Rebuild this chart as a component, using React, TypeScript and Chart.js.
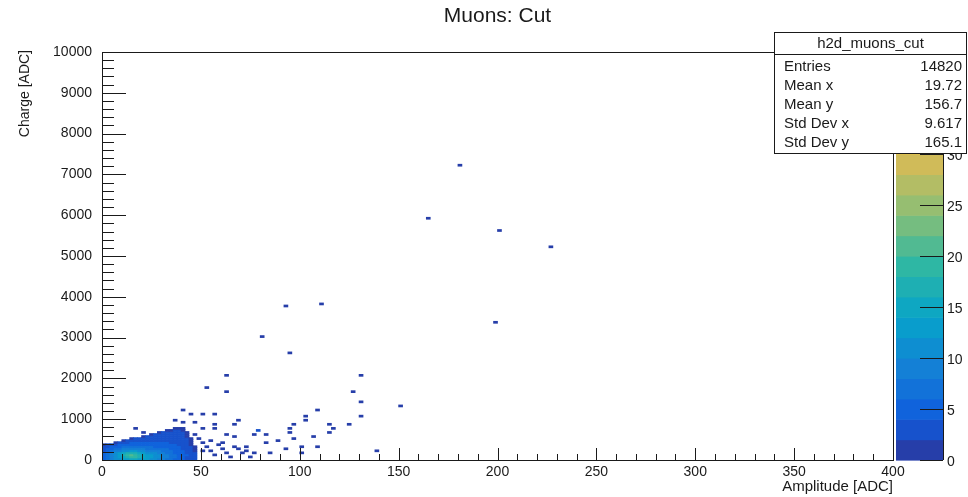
import React, { useEffect, useRef } from 'react';
import { Chart, registerables } from 'chart.js';

Chart.register(...registerables);

// ---------------- data ----------------
const TITLE = 'Muons: Cut';
const X_TITLE = 'Amplitude [ADC]';
const Y_TITLE = 'Charge [ADC]';
const X_MIN = 0;
const X_MAX = 400;
const Y_MIN = 0;
const Y_MAX = 10000;
const X_BIN = 2;
const Y_BIN = 50;
const Z_MAX = 40;
const N_CONTOURS = 20;
const Z_TICKS = [0, 5, 10, 15, 20, 25, 30, 35, 40];
const X_MAJOR = 50;
const X_MINOR = 10;
const Y_MAJOR = 1000;
const Y_MINOR = 200;

const STAT_TITLE = 'h2d_muons_cut';
const STAT_LABELS = ['Entries', 'Mean x', 'Mean y', 'Std Dev x', 'Std Dev y'];
const STAT_VALUES = ['14820', '19.72', '156.7', '9.617', '165.1'];

// dense core: rows = y bins (0-50, 50-100, ...), columns = x bins (0-2, 2-4, ...)
const denseCounts: number[][] = [
  [4, 6, 8, 10, 11, 12, 13, 14, 14, 13, 12, 12, 11, 10, 9, 8, 7, 6, 5, 4, 4, 3, 2, 2],
  [5, 7, 9, 11, 13, 15, 17, 19, 18, 16, 14, 13, 12, 11, 10, 9, 8, 7, 6, 5, 4, 3, 3, 2],
  [5, 7, 9, 11, 13, 16, 19, 20, 19, 16, 14, 13, 12, 11, 10, 9, 8, 7, 6, 5, 4, 4, 3, 2],
  [4, 6, 8, 10, 12, 14, 16, 17, 16, 14, 12, 11, 10, 10, 9, 8, 7, 6, 5, 5, 4, 3, 2, 2],
  [3, 5, 6, 8, 9, 10, 11, 12, 12, 11, 10, 9, 9, 8, 8, 7, 6, 6, 5, 4, 4, 3, 2, 1],
  [3, 4, 5, 6, 7, 8, 8, 9, 9, 8, 8, 7, 7, 7, 6, 6, 6, 5, 5, 4, 3, 3, 2, 1],
  [2, 3, 4, 5, 5, 6, 6, 6, 6, 6, 6, 6, 6, 5, 5, 5, 5, 5, 4, 4, 3, 2, 2, 1],
  [1, 2, 2, 3, 4, 4, 5, 5, 5, 5, 5, 5, 5, 5, 4, 4, 4, 4, 4, 3, 3, 2, 1, 0],
  [0, 0, 0, 1, 2, 3, 3, 4, 4, 4, 4, 4, 4, 4, 4, 4, 4, 3, 3, 3, 3, 2, 1, 0],
  [0, 0, 0, 0, 0, 1, 2, 3, 3, 3, 3, 3, 3, 3, 3, 3, 3, 3, 3, 3, 2, 2, 1, 0],
  [0, 0, 0, 0, 0, 0, 0, 1, 2, 2, 3, 3, 3, 3, 3, 3, 3, 3, 3, 3, 2, 2, 1, 0],
  [0, 0, 0, 0, 0, 0, 0, 0, 0, 0, 1, 2, 2, 2, 3, 3, 3, 3, 3, 2, 2, 1, 0, 0],
  [0, 0, 0, 0, 0, 0, 0, 0, 0, 0, 0, 0, 1, 2, 2, 2, 2, 2, 2, 2, 2, 1, 0, 0],
  [0, 0, 0, 0, 0, 0, 0, 0, 0, 0, 0, 0, 0, 0, 1, 2, 2, 2, 2, 2, 2, 1, 0, 0],
  [0, 0, 0, 0, 0, 0, 0, 0, 0, 0, 0, 0, 0, 0, 0, 0, 1, 1, 2, 2, 1, 0, 0, 0],
  [0, 0, 0, 0, 0, 0, 0, 0, 0, 0, 0, 0, 0, 0, 0, 0, 0, 0, 1, 1, 1, 0, 0, 0],
];

// isolated entries (amplitude, charge)
const sparseX = [
  180, 165, 200, 227, 198, 93, 111, 81, 95,
  63, 131, 53, 63, 127, 131, 151, 109, 51, 57, 103, 131,
  125, 103, 97, 95, 68, 67, 115, 117, 115, 107, 95, 97, 89, 83, 83, 78, 76, 72, 101, 109, 93, 85, 76, 100, 139,
  56, 57, 51, 66, 69, 41, 45, 36, 40, 47, 62, 79, 21, 17,
  48, 50, 52, 54, 56, 58, 60, 62, 64, 50, 55, 47, 60, 66, 70, 72, 75,
];
const sparseY = [
  7200, 5900, 5600, 5200, 3350, 3770, 3810, 3030, 2640,
  2050, 2050, 1770, 1660, 1660, 1420, 1340, 1200, 1100, 1130, 1050, 1050,
  880, 950, 880, 780, 950, 880, 850, 780, 660, 560, 660, 510, 470, 610, 440, 710, 630, 340, 320, 320, 290, 150, 170, 170, 240,
  850, 760, 780, 560, 290, 1220, 1130, 950, 900, 900, 640, 700, 690, 780,
  500, 400, 300, 200, 120, 350, 250, 180, 80, 200, 450, 600, 420, 300, 150, 220, 90,
];

// ROOT kBird palette
const BIRD_STOPS = [0.0, 0.125, 0.25, 0.375, 0.5, 0.625, 0.75, 0.875, 1.0];
const BIRD_R = [0.2082, 0.0592, 0.078, 0.0232, 0.1802, 0.5301, 0.8186, 0.9956, 0.9764];
const BIRD_G = [0.1664, 0.3599, 0.5041, 0.6419, 0.7178, 0.7492, 0.7328, 0.7862, 0.9832];
const BIRD_B = [0.5293, 0.8684, 0.8385, 0.7914, 0.6425, 0.4662, 0.3499, 0.1968, 0.0539];

const FONT = '"Liberation Sans", Arial, Helvetica, sans-serif';
const INK = '#1a1a1a';

function bird(f: number): string {
  const t = Math.max(0, Math.min(1, f));
  let i = 0;
  while (i < BIRD_STOPS.length - 2 && t > BIRD_STOPS[i + 1]) i++;
  const u = (t - BIRD_STOPS[i]) / (BIRD_STOPS[i + 1] - BIRD_STOPS[i]);
  const lerp = (a: number[]) => Math.round(255 * (a[i] + (a[i + 1] - a[i]) * u));
  return `rgb(${lerp(BIRD_R)},${lerp(BIRD_G)},${lerp(BIRD_B)})`;
}

function colorForCount(c: number): string {
  const step = Z_MAX / N_CONTOURS;
  const level = Math.min(N_CONTOURS - 1, Math.floor(c / step));
  return bird((level + 0.99) / N_CONTOURS);
}

type Cell = { x: number; y: [number, number]; c: number };

function buildCells(): Cell[] {
  const map = new Map<string, Cell>();
  denseCounts.forEach((row, r) => {
    row.forEach((count, col) => {
      if (count > 0) {
        const key = `${col}_${r}`;
        map.set(key, { x: (col + 0.5) * X_BIN, y: [r * Y_BIN, (r + 1) * Y_BIN], c: count });
      }
    });
  });
  sparseX.forEach((xv, i) => {
    const col = Math.floor(xv / X_BIN);
    const r = Math.floor(sparseY[i] / Y_BIN);
    const key = `${col}_${r}`;
    const existing = map.get(key);
    if (existing) existing.c += 1;
    else map.set(key, { x: (col + 0.5) * X_BIN, y: [r * Y_BIN, (r + 1) * Y_BIN], c: 1 });
  });
  return Array.from(map.values());
}

const rootDecor = {
  id: 'rootDecor',
  afterDraw(chart: any) {
    const ctx: CanvasRenderingContext2D = chart.ctx;
    const { left, right, top, bottom } = chart.chartArea;
    const xs = chart.scales.x;
    const ys = chart.scales.y;
    const zs = chart.scales.z;
    ctx.save();

    // frame
    ctx.strokeStyle = INK;
    ctx.lineWidth = 1;
    ctx.strokeRect(Math.round(left) + 0.5, Math.round(top) + 0.5, Math.round(right - left), Math.round(bottom - top));

    // axis ticks (inside frame)
    ctx.beginPath();
    for (let v = X_MIN; v <= X_MAX; v += X_MINOR) {
      const px = Math.round(xs.getPixelForValue(v)) + 0.5;
      const len = v % X_MAJOR === 0 ? 12 : 6;
      ctx.moveTo(px, bottom);
      ctx.lineTo(px, bottom - len);
    }
    for (let v = Y_MIN; v <= Y_MAX; v += Y_MINOR) {
      const py = Math.round(ys.getPixelForValue(v)) + 0.5;
      const len = v % Y_MAJOR === 0 ? 24 : 12;
      ctx.moveTo(left, py);
      ctx.lineTo(left + len, py);
    }
    ctx.stroke();

    // palette
    const zPix = (v: number) => {
      const p = zs ? zs.getPixelForValue(v) : NaN;
      return Number.isFinite(p) ? p : bottom - (v / Z_MAX) * (bottom - top);
    };
    const pl = right + 3;
    const pr = right + 50;
    for (let i = 0; i < N_CONTOURS; i++) {
      const lo = (i * Z_MAX) / N_CONTOURS;
      const hi = ((i + 1) * Z_MAX) / N_CONTOURS;
      const y1 = zPix(hi);
      const y0 = zPix(lo);
      ctx.fillStyle = bird((i + 0.99) / N_CONTOURS);
      ctx.fillRect(pl, y1, pr - pl, y0 - y1 + 0.6);
    }
    ctx.beginPath();
    ctx.moveTo(Math.round(pr) + 0.5, top);
    ctx.lineTo(Math.round(pr) + 0.5, bottom);
    Z_TICKS.forEach((t) => {
      const py = Math.round(zPix(t)) + 0.5;
      ctx.moveTo(pr, py);
      ctx.lineTo(pr - 23, py);
    });
    ctx.stroke();
    ctx.fillStyle = INK;
    ctx.font = `14px ${FONT}`;
    ctx.textAlign = 'left';
    ctx.textBaseline = 'middle';
    Z_TICKS.forEach((t) => {
      ctx.fillText(String(t), pr + 4, zPix(t) + 2);
    });

    // title
    ctx.font = `21px ${FONT}`;
    ctx.textAlign = 'center';
    ctx.textBaseline = 'middle';
    ctx.fillText(TITLE, (left + right) / 2, 16);

    // axis titles
    ctx.font = `15px ${FONT}`;
    ctx.textAlign = 'right';
    ctx.fillText(X_TITLE, right, 487);
    ctx.save();
    ctx.translate(25, top - 2);
    ctx.rotate(-Math.PI / 2);
    ctx.font = `14px ${FONT}`;
    ctx.textAlign = 'right';
    ctx.fillText(Y_TITLE, 0, 0);
    ctx.restore();

    // stats box
    const bx = 774, by = 32, bw = 193, bh = 121;
    ctx.fillStyle = '#ffffff';
    ctx.fillRect(bx, by, bw, bh);
    ctx.strokeStyle = INK;
    ctx.strokeRect(bx + 0.5, by + 0.5, bw - 1, bh);
    ctx.beginPath();
    ctx.moveTo(bx, by + 22.5);
    ctx.lineTo(bx + bw, by + 22.5);
    ctx.stroke();
    ctx.fillStyle = INK;
    ctx.font = `15px ${FONT}`;
    ctx.textAlign = 'center';
    ctx.fillText(STAT_TITLE, bx + bw / 2, by + 12);
    STAT_LABELS.forEach((lab, i) => {
      const yy = by + 35 + i * 19;
      ctx.textAlign = 'left';
      ctx.fillText(lab, bx + 10, yy);
      ctx.textAlign = 'right';
      ctx.fillText(STAT_VALUES[i], bx + bw - 5, yy);
    });

    ctx.restore();
  },
};

export default function App() {
  const canvasRef = useRef<HTMLCanvasElement | null>(null);

  useEffect(() => {
    const canvas = canvasRef.current;
    if (!canvas) return;
    const cells = buildCells();
    const chart = new Chart(canvas, {
      type: 'bar',
      data: {
        datasets: [
          {
            data: cells as any,
            backgroundColor: (c: any) => (c.raw ? colorForCount(c.raw.c) : 'transparent'),
            borderWidth: 0,
            barThickness: 4,
            xAxisID: 'x',
            yAxisID: 'y',
          } as any,
        ],
      },
      options: {
        animation: false,
        responsive: false,
        maintainAspectRatio: false,
        devicePixelRatio: 1,
        events: [],
        layout: { padding: { top: 52, right: 75, bottom: 0, left: 0 } },
        plugins: {
          legend: { display: false },
          tooltip: { enabled: false },
          title: { display: false },
        },
        scales: {
          x: {
            type: 'linear',
            position: 'bottom',
            min: X_MIN,
            max: X_MAX,
            offset: false,
            grid: { display: false, drawTicks: false, offset: false },
            border: { display: false },
            ticks: {
              stepSize: X_MAJOR,
              autoSkip: false,
              maxRotation: 0,
              padding: 4,
              color: INK,
              font: { family: FONT, size: 14 },
              callback: (v: any) => String(v),
            },
            afterFit: (s: any) => {
              s.height = 37;
            },
          },
          y: {
            type: 'linear',
            position: 'left',
            min: Y_MIN,
            max: Y_MAX,
            grid: { display: false, drawTicks: false },
            border: { display: false },
            ticks: {
              stepSize: Y_MAJOR,
              autoSkip: false,
              padding: 10,
              color: INK,
              font: { family: FONT, size: 14 },
              callback: (v: any) => String(v),
            },
            afterFit: (s: any) => {
              s.width = 102;
            },
          },
          z: {
            type: 'linear',
            position: 'right',
            display: false,
            min: 0,
            max: Z_MAX,
          },
        },
      } as any,
      plugins: [rootDecor],
    });
    return () => chart.destroy();
  }, []);

  return (
    <div style={{ position: 'absolute', left: 0, top: 0, width: 968, height: 497, background: '#fff' }}>
      <canvas ref={canvasRef} width={968} height={497} style={{ display: 'block' }} />
    </div>
  );
}
